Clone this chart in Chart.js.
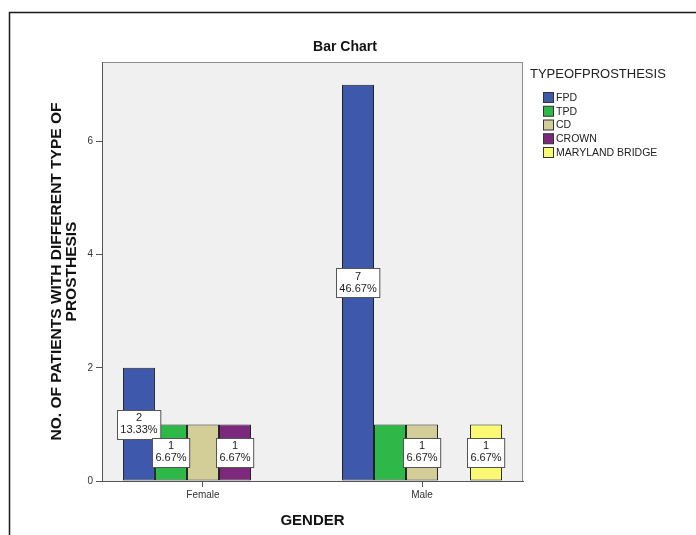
<!DOCTYPE html>
<html>
<head>
<meta charset="utf-8">
<title>Bar Chart</title>
<script src="https://cdn.jsdelivr.net/npm/chart.js@4"></script>
<style>
  html, body { margin: 0; padding: 0; background: #fff; }
  #wrap { width: 696px; height: 535px; }
</style>
</head>
<body>
<div id="wrap"><canvas id="prosthesisChart" width="696" height="535"></canvas></div>
<script>
const genders = ['Female', 'Male'];
const prosthesisTypes = ['FPD', 'TPD', 'CD', 'CROWN', 'MARYLAND BRIDGE'];

// patients per gender, one list per prosthesis type
const fpdCounts = [2, 7];
const tpdCounts = [1, 1];
const cdCounts = [1, 1];
const crownCounts = [1, 0];
const marylandCounts = [0, 1];

const yTicks = [0, 2, 4, 6];

// bars that get a count / percent box (the others would overlap a neighbour)
const fpdLabelled = [true, true];
const tpdLabelled = [true, false];
const cdLabelled = [false, true];
const crownLabelled = [true, false];
const marylandLabelled = [false, true];

const typeColors = ['#3e58ac', '#2eb848', '#d3ce97', '#7c287d', '#fbf873'];

const FONT = "'Liberation Sans', Arial, sans-serif";
Chart.defaults.font.family = FONT;

const allCounts = [fpdCounts, tpdCounts, cdCounts, crownCounts, marylandCounts];
const allLabelled = [fpdLabelled, tpdLabelled, cdLabelled, crownLabelled, marylandLabelled];
const totalPatients = allCounts.flat().reduce((a, b) => a + b, 0);

const datasets = prosthesisTypes.map((type, t) => ({
  label: type,
  // zero counts leave an empty slot in the group
  data: allCounts[t].map((v, i) => ({ x: i, y: v === 0 ? null : v })),
  backgroundColor: typeColors[t],
  borderColor: '#222',
  borderWidth: 1,
  borderSkipped: false,
  showLabel: allLabelled[t],
}));

// white page, outer frame and grey plot panel
const panelPlugin = {
  id: 'panel',
  beforeDraw(chart) {
    const { ctx, chartArea: a } = chart;
    ctx.save();
    ctx.fillStyle = '#fff';
    ctx.fillRect(0, 0, chart.width, chart.height);

    ctx.strokeStyle = '#1a1a1a';
    ctx.lineWidth = 1.5;
    ctx.beginPath();
    ctx.moveTo(9.5, chart.height);
    ctx.lineTo(9.5, 12.5);
    ctx.lineTo(chart.width, 12.5);
    ctx.stroke();

    ctx.fillStyle = '#f0f0f0';
    ctx.fillRect(a.left, a.top, a.right - a.left, a.bottom - a.top);
    ctx.strokeStyle = '#8c8c8c';
    ctx.lineWidth = 1;
    ctx.strokeRect(a.left + 0.5, a.top + 0.5, a.right - a.left - 1, a.bottom - a.top);
    ctx.restore();
  }
};

// count and percentage boxes centred on the bars
const barLabelPlugin = {
  id: 'barLabels',
  afterDatasetsDraw(chart) {
    const { ctx } = chart;
    ctx.save();
    ctx.font = '11px ' + FONT;
    ctx.textAlign = 'center';
    ctx.textBaseline = 'middle';
    chart.data.datasets.forEach((ds, t) => {
      const meta = chart.getDatasetMeta(t);
      meta.data.forEach((bar, i) => {
        const count = allCounts[t][i];
        if (!ds.showLabel[i] || !count) return;
        const { x, y, base } = bar.getProps(['x', 'y', 'base'], true);
        const cy = (y + base) / 2;
        const lines = [String(count), (count / totalPatients * 100).toFixed(2) + '%'];
        const w = Math.max(...lines.map(l => ctx.measureText(l).width)) + 6;
        const h = 29;
        const bx = Math.round(x - w / 2) + 0.5;
        const by = Math.round(cy - h / 2) + 0.5;
        ctx.fillStyle = '#fff';
        ctx.fillRect(bx, by, w, h);
        ctx.strokeStyle = '#555';
        ctx.lineWidth = 1;
        ctx.strokeRect(bx, by, w, h);
        ctx.fillStyle = '#222';
        ctx.fillText(lines[0], x, cy - 6);
        ctx.fillText(lines[1], x, cy + 6);
      });
    });
    ctx.restore();
  }
};

// chart title and the TYPEOFPROSTHESIS legend on the right
const titleLegendPlugin = {
  id: 'titleLegend',
  afterDraw(chart) {
    const { ctx, chartArea: a } = chart;
    ctx.save();
    ctx.fillStyle = '#111';
    ctx.font = 'bold 14px ' + FONT;
    ctx.textAlign = 'center';
    ctx.textBaseline = 'middle';
    ctx.fillText('Bar Chart', 345, 47);

    ctx.textAlign = 'left';
    ctx.font = '13px ' + FONT;
    ctx.fillStyle = '#222';
    ctx.fillText('TYPEOFPROSTHESIS', a.right + 7, 74);

    ctx.font = '10.5px ' + FONT;
    chart.data.datasets.forEach((ds, t) => {
      const cy = 97 + t * 13.75;
      const bx = a.right + 20;
      ctx.fillStyle = ds.backgroundColor;
      ctx.fillRect(bx + 0.5, cy - 4.5, 10, 10);
      ctx.strokeStyle = '#333';
      ctx.lineWidth = 1;
      ctx.strokeRect(bx + 0.5, cy - 4.5, 10, 10);
      ctx.fillStyle = '#222';
      ctx.fillText(ds.label, bx + 13, cy + 1);
    });
    ctx.restore();
  }
};

new Chart(document.getElementById('prosthesisChart'), {
  type: 'bar',
  data: { datasets },
  plugins: [panelPlugin, barLabelPlugin, titleLegendPlugin],
  options: {
    responsive: false,
    animation: false,
    layout: { padding: { left: 50, right: 173, top: 62, bottom: 0 } },
    datasets: { bar: { categoryPercentage: 0.7306, barPercentage: 1 } },
    plugins: {
      legend: { display: false },
      title: { display: false },
      tooltip: { enabled: false }
    },
    scales: {
      x: {
        type: 'linear',
        min: -0.461,
        max: 1.461,
        offset: false,
        afterBuildTicks: s => { s.ticks = genders.map((g, i) => ({ value: i })); },
        grid: { offset: false, drawOnChartArea: false, tickLength: 6, color: '#555' },
        border: { color: '#555' },
        ticks: {
          callback: v => genders[v],
          padding: 2,
          maxRotation: 0,
          color: '#333',
          font: { size: 10 }
        },
        title: {
          display: true,
          text: 'GENDER',
          color: '#111',
          font: { size: 15, weight: 'bold' },
          padding: { top: 6, bottom: 5 }
        },
        afterFit: s => { s.height = 54; }
      },
      y: {
        min: 0,
        max: 7.4,
        afterBuildTicks: s => { s.ticks = yTicks.map(v => ({ value: v })); },
        grid: { drawOnChartArea: false, tickLength: 6, color: '#555' },
        border: { color: '#555' },
        ticks: { padding: 3, color: '#333', font: { size: 10 } },
        title: {
          display: true,
          text: ['NO. OF PATIENTS WITH DIFFERENT TYPE OF', 'PROSTHESIS'],
          color: '#111',
          font: { size: 15.5, weight: 'bold', lineHeight: 0.92 },
          padding: { top: 0, bottom: 0 }
        },
        afterFit: s => { s.width = 52; }
      }
    }
  }
});
</script>
</body>
</html>
